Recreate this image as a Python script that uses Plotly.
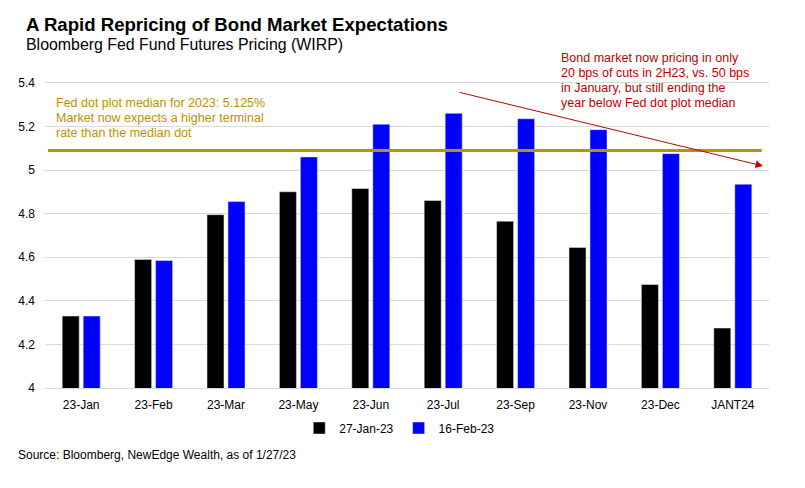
import plotly.graph_objects as go

categories = ["23-Jan", "23-Feb", "23-Mar", "23-May", "23-Jun", "23-Jul", "23-Sep", "23-Nov", "23-Dec", "JANT24"]
jan27 = [4.33, 4.59, 4.795, 4.90, 4.915, 4.86, 4.765, 4.645, 4.475, 4.275]
feb16 = [4.33, 4.585, 4.855, 5.06, 5.21, 5.26, 5.235, 5.185, 5.075, 4.935]
series_names = ["27-Jan-23", "16-Feb-23"]
dot_line_value = 5.09
y_ticks = [4, 4.2, 4.4, 4.6, 4.8, 5, 5.2, 5.4]
red_lines = ["Bond market now pricing in only", "20 bps of cuts in 2H23, vs. 50 bps",
             "in January, but still ending the", "year below Fed dot plot median"]
gold_lines = ["Fed dot plot median for 2023: 5.125%", "Market now expects a higher terminal",
              "rate than the median dot"]

FONT = "Liberation Sans, Arial, sans-serif"
RED = "#C00000"
GOLD = "#BF9000"

# plot area in pixels
L, R, T, B = 45, 769, 61, 388
def px(x):
    return (x - L) / (R - L)
def py(y):
    return (B - y) / (B - T)

fig = go.Figure()
fig.add_trace(go.Bar(x=categories, y=jan27, name=series_names[0], marker_color="#000000"))
fig.add_trace(go.Bar(x=categories, y=feb16, name=series_names[1], marker_color="#0000FF"))

fig.add_shape(type="line", xref="x domain", yref="y", x0=0.004, x1=0.99,
              y0=dot_line_value, y1=dot_line_value, line=dict(color=GOLD, width=3))

fig.add_annotation(xref="x domain", yref="y domain", x=px(763), y=py(166),
                   axref="x domain", ayref="y domain", ax=px(458), ay=py(92),
                   showarrow=True, arrowhead=2, arrowsize=1.5, arrowwidth=1,
                   arrowcolor=RED, text="")

for i, line in enumerate(red_lines):
    fig.add_annotation(xref="paper", yref="paper", x=px(559), y=py(58 + 15 * i),
                       xanchor="left", yanchor="middle", align="left", showarrow=False,
                       text=line, font=dict(family=FONT, size=12.5, color=RED))

for i, line in enumerate(gold_lines):
    fig.add_annotation(xref="paper", yref="paper", x=px(54), y=py(103 + 15 * i),
                       xanchor="left", yanchor="middle", align="left", showarrow=False,
                       text=line, font=dict(family=FONT, size=12.5, color=GOLD))

fig.add_annotation(xref="paper", yref="paper", x=px(24), y=py(24),
                   xanchor="left", yanchor="middle", showarrow=False,
                   text="<b>A Rapid Repricing of Bond Market Expectations</b>",
                   font=dict(family=FONT, size=18.6, color="#000000"))
fig.add_annotation(xref="paper", yref="paper", x=px(24), y=py(45),
                   xanchor="left", yanchor="middle", showarrow=False,
                   text="Bloomberg Fed Fund Futures Pricing (WIRP)",
                   font=dict(family=FONT, size=15.9, color="#000000"))
fig.add_annotation(xref="paper", yref="paper", x=px(16), y=py(455),
                   xanchor="left", yanchor="middle", showarrow=False,
                   text="Source: Bloomberg, NewEdge Wealth, as of 1/27/23",
                   font=dict(family=FONT, size=12, color="#000000"))

fig.update_layout(
    width=805, height=488,
    margin=dict(l=L, r=805 - R, t=T, b=488 - B),
    paper_bgcolor="white", plot_bgcolor="white",
    barmode="group", bargap=0.42, bargroupgap=0.19,
    font=dict(family=FONT, size=12, color="#000000"),
    showlegend=True,
    legend=dict(orientation="h", x=0.49, y=py(428), xanchor="center", yanchor="middle",
                font=dict(family=FONT, size=12), itemwidth=30, bgcolor="rgba(0,0,0,0)"),
    xaxis=dict(type="category", showgrid=False, showline=True, linecolor="#D9D9D9",
               linewidth=1, ticks="", tickfont=dict(size=12), ticklabelstandoff=6),
    yaxis=dict(range=[4, 5.5], tickvals=y_ticks, showgrid=True, gridcolor="#D9D9D9",
               gridwidth=1, zeroline=False, showline=False, ticks="",
               tickfont=dict(size=12), ticklabelstandoff=9),
)

fig.write_html("out.html")
